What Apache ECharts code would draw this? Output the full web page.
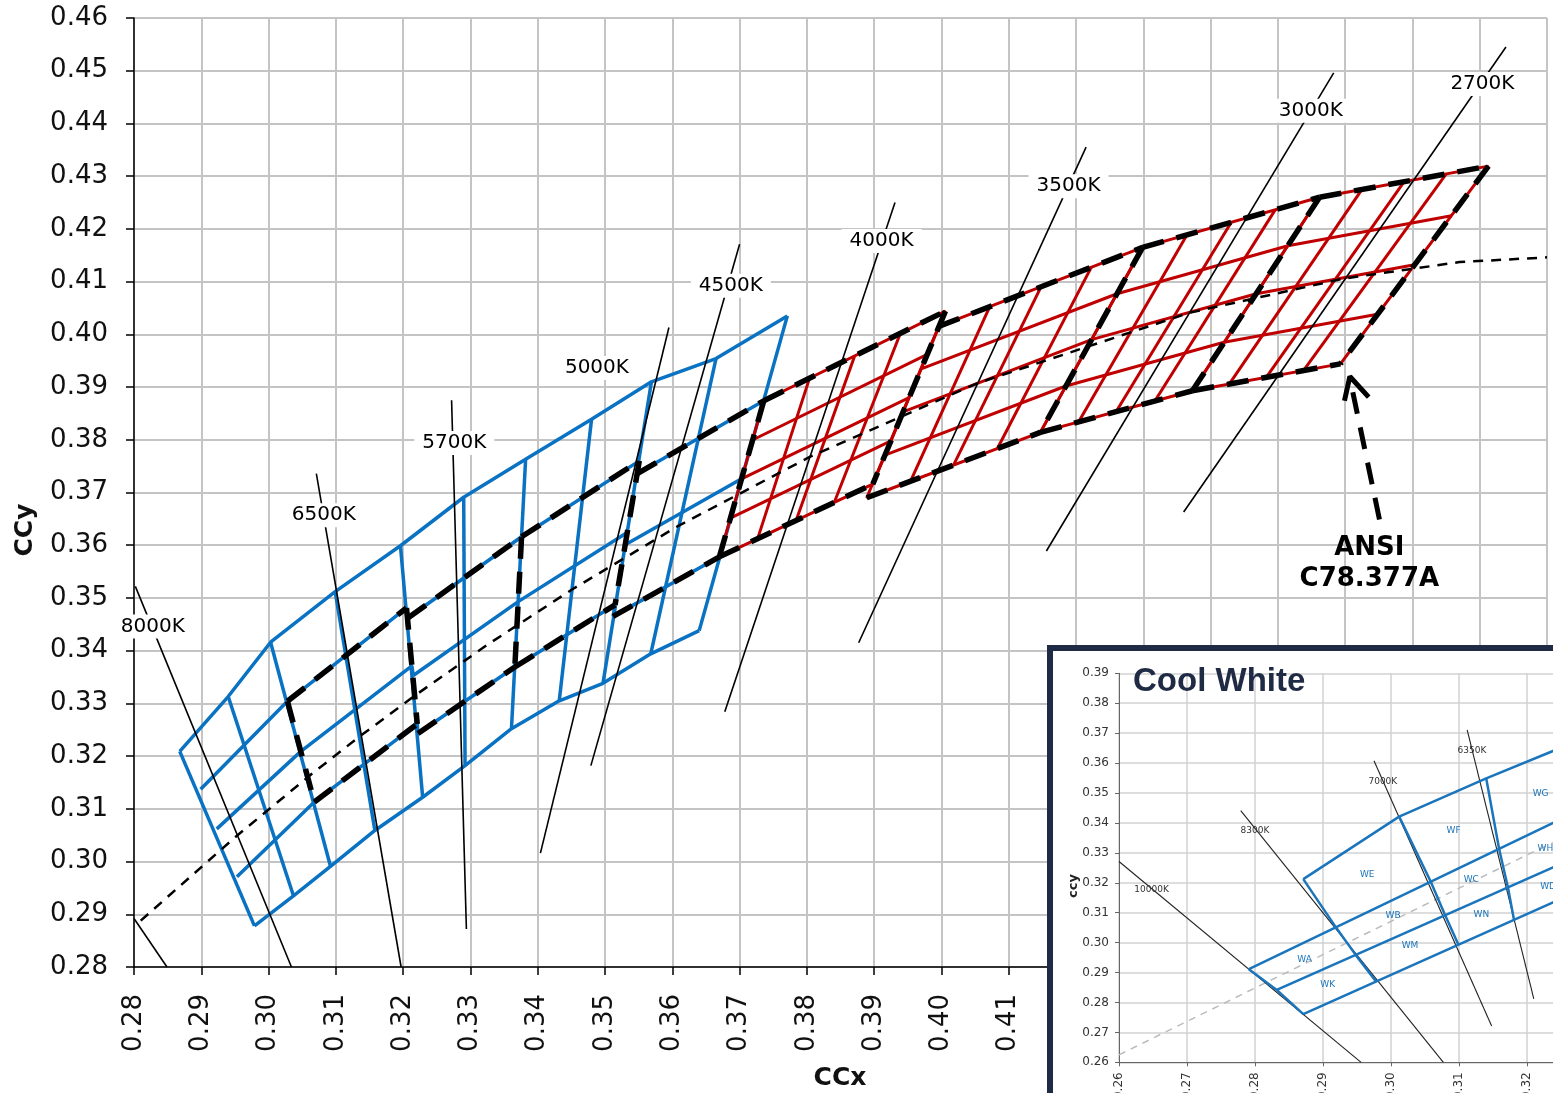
<!DOCTYPE html>
<html><head><meta charset="utf-8">
<script src="https://cdn.jsdelivr.net/npm/echarts@6/dist/echarts.min.js"></script>
<style>
html,body{margin:0;padding:0;width:1553px;height:1093px;overflow:hidden;background:#fff;}
#main{position:absolute;left:0;top:0;width:1560px;height:1093px;}
#inset{position:absolute;left:1047px;top:645px;width:560px;height:470px;border:6px solid #1f2a44;box-sizing:border-box;background:#fff;}
</style></head><body>
<div id="main"></div>
<div id="inset"></div>
<script>
// ---------- MAIN CHART DATA ----------
const blueTop = [[0.2868,0.3209],[0.2940,0.3313],[0.3003,0.3416],[0.3099,0.3512],[0.3196,0.3599],[0.3290,0.3691],[0.3382,0.3763],[0.3480,0.3839],[0.3569,0.3910],[0.3665,0.3954],[0.3771,0.4035]];
const blueBottom = [[0.2979,0.2878],[0.3037,0.2935],[0.3092,0.2991],[0.3158,0.3059],[0.3229,0.3122],[0.3292,0.3182],[0.3361,0.3252],[0.3432,0.3305],[0.3497,0.3338],[0.3568,0.3394],[0.3640,0.3438]];
const blueRowB = [[0.2899,0.3137],[0.3028,0.3304],[0.3205,0.3481],[0.3207,0.3462],[0.3376,0.3616],[0.3551,0.3760],[0.3548,0.3736],[0.3736,0.3874]];
const blueRowC = [[0.2923,0.3062],[0.3048,0.3209],[0.3213,0.3371],[0.3215,0.3353],[0.3371,0.3493],[0.3533,0.3624],[0.3530,0.3601],[0.3703,0.3726]];
const blueRowD = [[0.2953,0.2971],[0.3068,0.3113],[0.3221,0.3261],[0.3222,0.3243],[0.3366,0.3369],[0.3515,0.3487],[0.3512,0.3465],[0.3670,0.3578]];

const ansi6500 = [[0.3028,0.3304],[0.3205,0.3481],[0.3221,0.3261],[0.3068,0.3113]];
const ansi5700 = [[0.3207,0.3462],[0.3376,0.3616],[0.3366,0.3369],[0.3222,0.3243]];
const ansi5000 = [[0.3376,0.3616],[0.3551,0.3760],[0.3515,0.3487],[0.3366,0.3369]];
const ansi4500 = [[0.3548,0.3736],[0.3736,0.3874],[0.3670,0.3578],[0.3512,0.3465]];
const ansi4000 = [[0.3736,0.3874],[0.4006,0.4044],[0.3898,0.3716],[0.3670,0.3578]];
const ansi3500 = [[0.3996,0.4015],[0.4299,0.4165],[0.4147,0.3814],[0.3889,0.3690]];
const ansi3000 = [[0.4299,0.4165],[0.4562,0.4260],[0.4373,0.3893],[0.4147,0.3814]];
const ansi2700 = [[0.4562,0.4260],[0.4813,0.4319],[0.4593,0.3944],[0.4373,0.3893]];

const redColTop = [[0.3804,0.3917],[0.3871,0.3959],[0.3939,0.4002],[0.4072,0.4053],[0.4148,0.4090],[0.4223,0.4128],[0.4365,0.4189],[0.4431,0.4213],[0.4496,0.4236],[0.4625,0.4275],[0.4688,0.4290],[0.4750,0.4304]];
const redColBottom = [[0.3727,0.3613],[0.3784,0.3647],[0.3841,0.3682],[0.3954,0.3721],[0.4018,0.3752],[0.4083,0.3783],[0.4204,0.3834],[0.4260,0.3854],[0.4317,0.3873],[0.4428,0.3906],[0.4483,0.3919],[0.4538,0.3931]];
const redRowLeft = [[0.3720,0.3800],[0.3703,0.3726],[0.3687,0.3652],[0.3969,0.3934],[0.3943,0.3853],[0.3916,0.3771],[0.4261,0.4077],[0.4223,0.3990],[0.4185,0.3902],[0.4515,0.4168],[0.4468,0.4077],[0.4420,0.3985]];
const redRowRight = [[0.3979,0.3962],[0.3952,0.3880],[0.3925,0.3798],[0.4261,0.4077],[0.4223,0.3990],[0.4185,0.3902],[0.4515,0.4168],[0.4468,0.4077],[0.4420,0.3985],[0.4758,0.4225],[0.4703,0.4132],[0.4648,0.4038]];

const planck = [[0.2810,0.2888],[0.2952,0.3048],[0.3064,0.3166],[0.3135,0.3237],[0.3221,0.3318],[0.3325,0.3411],[0.3451,0.3516],[0.3608,0.3636],[0.3805,0.3768],[0.4053,0.3907],[0.4369,0.4041],[0.4599,0.4106],[0.4770,0.4137],[0.4900,0.4146]];

const isoStart = [[0.2800,0.2892],[0.2802,0.3522],[0.3071,0.3736],[0.3272,0.3875],[0.3595,0.4013],[0.3700,0.4171],[0.3931,0.4250],[0.4215,0.4355],[0.4583,0.4496],[0.4839,0.4545]];
const isoEnd = [[0.2849,0.2800],[0.3034,0.2800],[0.3197,0.2800],[0.3294,0.2872],[0.3404,0.3016],[0.3479,0.3182],[0.3678,0.3284],[0.3877,0.3415],[0.4156,0.3589],[0.4360,0.3663]];
const isoLabelNames = ['8000K','6500K','5700K','5000K','4500K','4000K','3500K','3000K','2700K'];
const isoLabelPos = [[0.2828,0.3446],[0.3082,0.3657],[0.3276,0.3794],[0.3488,0.3936],[0.3687,0.4092],[0.3911,0.4177],[0.4189,0.4281],[0.4549,0.4424],[0.4804,0.4475]];

const arrowShaft = [[0.4651,0.3649],[0.4609,0.3905]];
const arrowHead = [[0.4599,0.3874],[0.4607,0.3920],[0.4635,0.3881]];
const ansiNotePos = [0.4636,0.3565];
const ansiNoteText = 'ANSI\nC78.377A';

// ---------- INSET DATA ----------
const insetTop = [[0.2871,0.3212],[0.3012,0.3421],[0.3140,0.3549],[0.3240,0.3642]];
const insetRow1 = [[0.2791,0.2911],[0.3240,0.3402]];
const insetRow2 = [[0.2832,0.2842],[0.3240,0.3253]];
const insetRow3 = [[0.2871,0.2761],[0.3240,0.3136]];
const insetLowerLeft = [[0.2791,0.2911],[0.2832,0.2842],[0.2871,0.2761]];
const insetColA = [[0.2871,0.3212],[0.2919,0.3051],[0.2948,0.2959],[0.2978,0.2870]];
const insetColB = [[0.3012,0.3421],[0.3058,0.3206],[0.3079,0.3095],[0.3099,0.2994]];
const insetColC = [[0.3140,0.3549],[0.3159,0.3313],[0.3172,0.3184],[0.3181,0.3075]];
const insetPlanck = [[0.2600,0.2625],[0.2900,0.2960],[0.3210,0.3304],[0.3240,0.3335]];
const insetIsoStart = [[0.2600,0.3271],[0.2779,0.3441],[0.2975,0.3608],[0.3112,0.3711]];
const insetIsoEnd = [[0.2956,0.2600],[0.3077,0.2600],[0.3148,0.2721],[0.3210,0.2812]];
const insetIsoNames = ['10000K','8300K','7000K','6350K'];
const insetIsoLabelPos = [[0.2648,0.3178],[0.2800,0.3375],[0.2988,0.3538],[0.3119,0.3640]];
const binNames = ['WE','WF','WG','WH','WC','WD','WB','WN','WA','WM','WK'];
const binPos = [[0.2965,0.3226],[0.3092,0.3374],[0.3220,0.3499],[0.3227,0.3313],[0.3118,0.3210],[0.3231,0.3187],[0.3003,0.3089],[0.3133,0.3092],[0.2873,0.2944],[0.3028,0.2989],[0.2907,0.2861]];

// ---------- BUILD ----------
const BLUE = '#0a72c2', RED = '#c00000', FONT = 'DejaVu Sans';
function line(data, color, width, type, z) {
  return {type:'line', data:data, symbol:'none', showSymbol:false, silent:true, animation:false,
    lineStyle:{color:color, width:width, type:type||'solid'}, z:z||2, clip:true};
}
const noBorder = {textBorderWidth:0, textBorderColor:'transparent', textShadowBlur:0, opacity:1};
const S = [];
[blueTop, blueRowB, blueRowC, blueRowD, blueBottom].forEach(r => S.push(line(r, BLUE, 3.5)));
blueTop.forEach((p,i) => S.push(line([p, blueBottom[i]], BLUE, 3.5)));
[ansi4000, ansi3500, ansi3000, ansi2700].forEach(q => S.push(line(q.concat([q[0]]), RED, 3)));
redColTop.forEach((p,i) => S.push(line([p, redColBottom[i]], RED, 3)));
redRowLeft.forEach((p,i) => S.push(line([p, redRowRight[i]], RED, 3)));
S.push(line(planck, '#000', 2.5, [10,8], 3));
isoStart.forEach((p,i) => S.push(line([p, isoEnd[i]], '#000', 1.6, 'solid', 3)));
// ANSI quadrangle outlines: shared / coincident edges are drawn once so they keep one dash pattern
const drawnMids = [];
[ansi6500, ansi5700, ansi5000, ansi4500, ansi4000, ansi3500, ansi3000, ansi2700].forEach(q => {
  const edges = [[q[0],q[1]],[q[1],q[2]],[q[3],q[2]],[q[0],q[3]]];
  edges.forEach(e => {
    const m = [(e[0][0]+e[1][0])/2, (e[0][1]+e[1][1])/2];
    if (drawnMids.some(d => Math.hypot(d[0]-m[0], d[1]-m[1]) < 0.004)) return;
    drawnMids.push(m);
    S.push(line(e, '#000', 5.5, [22,13], 4));
  });
});
S.push(line(arrowShaft, '#000', 5, [22,14], 4));
S.push(line(arrowHead, '#000', 5, 'solid', 4));
S.push({type:'scatter', silent:true, animation:false, z:20, symbol:'circle', symbolSize:1,
  itemStyle:{color:'rgba(0,0,0,0)'},
  data: isoLabelNames.map((n,i) => ({name:n, value:isoLabelPos[i]})),
  label:Object.assign({show:true, position:'inside', formatter:'{b}', fontSize:20, fontFamily:FONT, color:'#000',
    backgroundColor:'#fff', padding:[3,8,1,8]}, noBorder)});
S.push({type:'scatter', silent:true, animation:false, z:20, symbol:'circle', symbolSize:1,
  itemStyle:{color:'rgba(0,0,0,0)'},
  data:[{name:ansiNoteText, value:ansiNotePos}],
  label:Object.assign({show:true, position:'inside', formatter:'{b}', fontSize:26, fontWeight:'bold', fontFamily:FONT,
    color:'#000', lineHeight:31, align:'center'}, noBorder)});

const main = echarts.init(document.getElementById('main'));
main.setOption({
  animation:false,
  textStyle:{fontFamily:FONT},
  grid:{left:134, top:18, width:1423, height:949},
  xAxis:{type:'value', min:0.28, max:0.49, interval:0.01,
    axisLine:{show:true, onZero:false, lineStyle:{color:'#000', width:1.5}},
    axisTick:{show:true, length:8, lineStyle:{color:'#000', width:1.5}},
    axisLabel:{rotate:90, margin:27, fontSize:26, color:'#111', fontFamily:FONT, formatter:v => v.toFixed(2)},
    splitLine:{show:true, lineStyle:{color:'#c4c4c4', width:2}}},
  yAxis:{type:'value', min:0.28, max:0.46, interval:0.01,
    axisLine:{show:true, onZero:false, lineStyle:{color:'#000', width:1.5}},
    axisTick:{show:true, length:8, lineStyle:{color:'#000', width:1.5}},
    axisLabel:{margin:26, fontSize:26, color:'#111', fontFamily:FONT, formatter:v => v.toFixed(2)},
    splitLine:{show:true, lineStyle:{color:'#c4c4c4', width:2}}},
  graphic:[
    {type:'text', x:25, y:530, rotation:Math.PI/2, z:50,
      style:{text:'CCy', font:'bold 25px "DejaVu Sans"', fill:'#111', textAlign:'center', textVerticalAlign:'middle', align:'center', verticalAlign:'middle'}},
    {type:'text', x:840, y:1078, z:50,
      style:{text:'CCx', font:'bold 25px "DejaVu Sans"', fill:'#111', textAlign:'center', textVerticalAlign:'middle', align:'center', verticalAlign:'middle'}}
  ],
  series:S
});

// ---------- INSET ----------
const IBLUE = '#1a75bc';
const T = [];
[insetTop, insetRow1, insetRow2, insetRow3, insetLowerLeft, insetColA, insetColB, insetColC].forEach(r => T.push(line(r, IBLUE, 2.5, 'solid', 3)));
T.push(line(insetPlanck, '#bbbbbb', 1.5, [7,6], 2));
insetIsoStart.forEach((p,i) => T.push(line([p, insetIsoEnd[i]], '#222', 1.1, 'solid', 2)));
T.push({type:'scatter', silent:true, animation:false, z:20, symbol:'circle', symbolSize:1,
  itemStyle:{color:'rgba(0,0,0,0)'},
  data: insetIsoNames.map((n,i) => ({name:n, value:insetIsoLabelPos[i]})),
  label:Object.assign({show:true, position:'inside', formatter:'{b}', fontSize:9, fontFamily:FONT, color:'#333'}, noBorder)});
T.push({type:'scatter', silent:true, animation:false, z:20, symbol:'circle', symbolSize:1,
  itemStyle:{color:'rgba(0,0,0,0)'},
  data: binNames.map((n,i) => ({name:n, value:binPos[i]})),
  label:Object.assign({show:true, position:'inside', formatter:'{b}', fontSize:9, fontFamily:FONT, color:IBLUE}, noBorder)});

const inset = echarts.init(document.getElementById('inset'));
inset.setOption({
  animation:false,
  textStyle:{fontFamily:FONT},
  grid:{left:66, top:22.3, width:481, height:389},
  xAxis:{type:'value', min:0.26, max:0.33, interval:0.01,
    axisLine:{show:true, onZero:false, lineStyle:{color:'#666', width:1}},
    axisTick:{show:true, length:4, lineStyle:{color:'#666'}},
    axisLabel:{rotate:90, margin:10, fontSize:12, color:'#333', fontFamily:FONT, formatter:v => v.toFixed(2)},
    splitLine:{show:true, lineStyle:{color:'#d2d2d2', width:1.5}}},
  yAxis:{type:'value', min:0.26, max:0.39, interval:0.01,
    axisLine:{show:true, onZero:false, lineStyle:{color:'#666', width:1}},
    axisTick:{show:true, length:4, lineStyle:{color:'#666'}},
    axisLabel:{margin:10, fontSize:12, color:'#333', fontFamily:FONT, formatter:v => v.toFixed(2)},
    splitLine:{show:true, lineStyle:{color:'#d2d2d2', width:1.5}}},
  graphic:[
    {type:'text', x:80, y:31, z:50,
      style:{text:'Cool White', font:'bold 33px "Liberation Sans"', fill:'#1f2a44', textAlign:'left', textVerticalAlign:'middle', align:'left', verticalAlign:'middle'}},
    {type:'text', x:21, y:235, rotation:Math.PI/2, z:50,
      style:{text:'ccy', font:'bold 13px "DejaVu Sans"', fill:'#222', textAlign:'center', textVerticalAlign:'middle', align:'center', verticalAlign:'middle'}}
  ],
  series:T
});
</script></body></html>
